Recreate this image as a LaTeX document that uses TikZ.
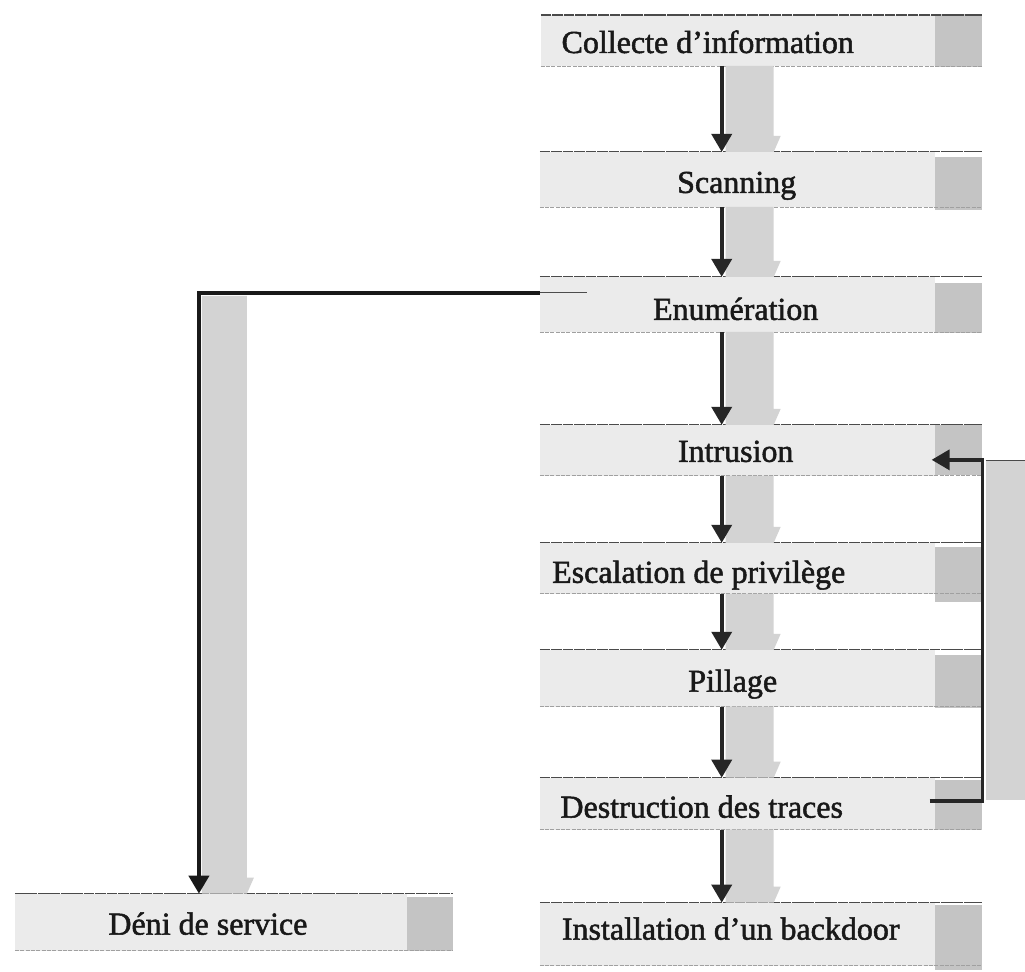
\documentclass[tikz,border=0pt]{standalone}
\usepackage{fontspec}
\setmainfont{Liberation Serif}
\newfontfamily\stagefont[FakeBold=1.6]{Liberation Serif}
\usetikzlibrary{arrows.meta,fit}

\definecolor{boxfill}{HTML}{EBEBEB}
\definecolor{squarefill}{HTML}{C4C4C4}
\definecolor{shadowfill}{HTML}{D3D3D3}
\definecolor{inkline}{HTML}{262626}
\definecolor{topedge}{HTML}{4A4A4A}
\definecolor{bottomedge}{HTML}{A0A0A0}

\begin{document}
\begin{tikzpicture}[x=0.75pt,y=-0.75pt,
  stagebox/.style={fill=boxfill, draw=none, inner sep=0pt, outer sep=0pt},
  stagelabel/.style={anchor=base, inner sep=0pt, text=black!90,
    font=\stagefont\fontsize{24}{28}\selectfont},
  endsquare/.style={fill=squarefill},
  bandshade/.style={fill=shadowfill},
  topline/.style={draw=topedge, line width=0.8pt, dash pattern=on 8pt off 0.6pt},
  bottomline/.style={draw=bottomedge, line width=0.5pt, dash pattern=on 3pt off 1pt},
  flowarrow/.style={draw=inkline, line width=2.8pt,
    -{Triangle[width=15pt,length=13.5pt]}},
  branchline/.style={draw=black!90, line width=3pt,
    -{Triangle[width=15pt,length=13.5pt]}},
]
% page frame
\path[fill=white] (0,0) rectangle (1025,972);

% ---------- stage boxes ----------
\node[stagebox, fit={(541,15) (935,66)}]   (collecte)    {};
\node[stagebox, fit={(540,152) (935,207)}] (scanning)    {};
\node[stagebox, fit={(540,277) (935,332)}] (enum)        {};
\node[stagebox, fit={(540,425) (935,476)}] (intrusion)   {};
\node[stagebox, fit={(540,543) (935,594)}] (escalation)  {};
\node[stagebox, fit={(540,650) (935,707)}] (pillage)     {};
\node[stagebox, fit={(540,778) (935,830)}] (destruction) {};
\node[stagebox, fit={(540,903) (935,966)}] (install)     {};
\node[stagebox, fit={(15,894) (407,951)}]  (deni)        {};

% darker end squares
\fill[endsquare] (935,14)  rectangle (982,67);
\fill[endsquare] (935,157) rectangle (982,210);
\fill[endsquare] (935,283) rectangle (982,333);
\fill[endsquare] (935,425) rectangle (982,475);
\fill[endsquare] (935,547) rectangle (982,602);
\fill[endsquare] (935,655) rectangle (982,708);
\fill[endsquare] (935,780) rectangle (982,830);
\fill[endsquare] (935,905) rectangle (982,970);
\fill[endsquare] (407,897) rectangle (453,951);

% box edges
\foreach \b in {collecte,scanning,enum,intrusion,escalation,pillage,destruction,install}{
  \draw[topline] (\b.north west) -- ([xshift=35.25pt]\b.north east);
  \draw[bottomline] (\b.south west) -- ([xshift=35.25pt]\b.south east);
}
\draw[topline] (deni.north west) -- ([xshift=34.5pt]deni.north east);
\draw[bottomline] (deni.south west) -- ([xshift=34.5pt]deni.south east);

% ---------- shadows of the vertical arrows ----------
\foreach \ya/\yb in {66/152, 207/277, 332/425, 476/543, 594/650, 707/778, 830/903}{
  \fill[bandshade] (726,\ya) -- (774,\ya) -- (774,\yb-16) -- (781,\yb-16)
     -- (774,\yb) -- (726,\yb) -- cycle;
}
% shadow of the branch towards the denial of service
\fill[bandshade] (202,296) -- (247,296) -- (247,878) -- (254,878)
   -- (247,894) -- (202,894) -- cycle;
% shadow of the feedback loop
\fill[bandshade] (986,460) rectangle (1025,800);
\draw[topedge, line width=0.6pt] (986,461) -- (1025,461);

% ---------- labels ----------
\node[stagelabel] (tcollecte)    at (708,53)  {Collecte d’information};
\node[stagelabel] (tscanning)    at (737,193) {Scanning};
\node[stagelabel] (tenum)        at (736,320) {Enumération};
\node[stagelabel] (tintrusion)   at (736,462) {Intrusion};
\node[stagelabel] (tescalation)  at (699,583) {Escalation de privilège};
\node[stagelabel] (tpillage)     at (733,692) {Pillage};
\node[stagelabel] (tdestruction) at (702,818) {Destruction des traces};
\node[stagelabel] (tinstall)     at (731,940) {Installation d’un backdoor};
\node[stagelabel] (tdeni)        at (208,935) {Déni de service};

% ---------- connectors ----------
\coordinate (axis) at (722,0);
\draw[flowarrow] (collecte.south -| axis)    -- (scanning.north -| axis);
\draw[flowarrow] (scanning.south -| axis)    -- (enum.north -| axis);
\draw[flowarrow] (enum.south -| axis)        -- (intrusion.north -| axis);
\draw[flowarrow] (intrusion.south -| axis)   -- (escalation.north -| axis);
\draw[flowarrow] (escalation.south -| axis)  -- (pillage.north -| axis);
\draw[flowarrow] (pillage.south -| axis)     -- (destruction.north -| axis);
\draw[flowarrow] (destruction.south -| axis) -- (install.north -| axis);

% branch from the enumeration to the denial of service
\coordinate (branchcorner) at (199,293);
\draw[branchline] (enum.west |- branchcorner) -- (branchcorner)
  -- (deni.north -| branchcorner);
\draw[black!70, line width=0.6pt] (enum.west |- branchcorner) -- ++(47,0);

% feedback loop from the trace destruction back to the intrusion
\coordinate (loopout) at (983,801);
\coordinate (loopin)  at (983,460);
\draw[flowarrow] ([xshift=-3.75pt]destruction.east |- loopout) -- (loopout)
  -- (loopin) -- ([xshift=-2.25pt]intrusion.east |- loopin);
\end{tikzpicture}
\end{document}
